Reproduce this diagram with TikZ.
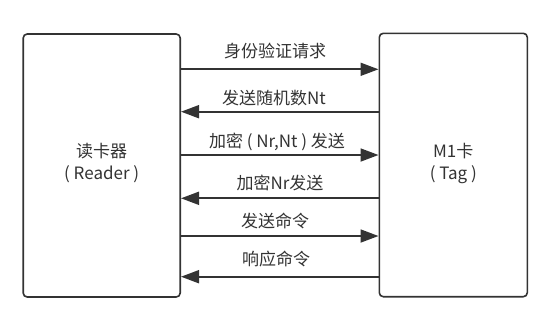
\documentclass[tikz,border=0pt]{standalone}
\usepackage{fontspec}
\setmainfont{Noto Sans CJK SC}
\usetikzlibrary{arrows.meta}
\definecolor{ink}{HTML}{333333}
\begin{document}
\begin{tikzpicture}[x=1pt,y=-1pt,
  box/.style={draw=ink,line width=1.6pt,rounded corners=4pt,fill=white,inner sep=0pt},
  msg/.style={draw=ink,line width=1.8pt,-{Triangle[length=18pt,width=13pt]}},
  lbl/.style={text=ink,font=\fontsize{17}{20}\selectfont,inner sep=0pt},
  btxt/.style={text=ink,font=\fontsize{17}{22}\selectfont,align=center}]
\useasboundingbox (0,0) rectangle (554,322);
\node[box,minimum width=157pt,minimum height=263pt] (L) at (101.7,165.5) {};
\node[box,minimum width=148pt,minimum height=263.4pt] (R) at (453.3,165) {};
\node[btxt] (Lt) at (101.7,163) {读卡器\\( Reader )};
\node[btxt] (Rt) at (453.3,163) {M1卡\\( Tag )};
\draw[msg] (L.east |- 0,69.3) -- (R.west |- 0,69.3);
\draw[msg] (R.west |- 0,111.7) -- (L.east |- 0,111.7);
\draw[msg] (L.east |- 0,155) -- (R.west |- 0,155);
\draw[msg] (R.west |- 0,198.3) -- (L.east |- 0,198.3);
\draw[msg] (L.east |- 0,236) -- (R.west |- 0,236);
\draw[msg] (R.west |- 0,276.7) -- (L.east |- 0,276.7);
\node[lbl] (m1) at (275,51) {身份验证请求};
\node[lbl] (m2) at (274,98) {发送随机数Nt};
\node[lbl] (m3) at (277,142) {加密 ( Nr,Nt ) 发送};
\node[lbl] (m4) at (280,183) {加密Nr发送};
\node[lbl] (m5) at (275,221) {发送命令};
\node[lbl] (m6) at (276,259) {响应命令};
\end{tikzpicture}
\end{document}
